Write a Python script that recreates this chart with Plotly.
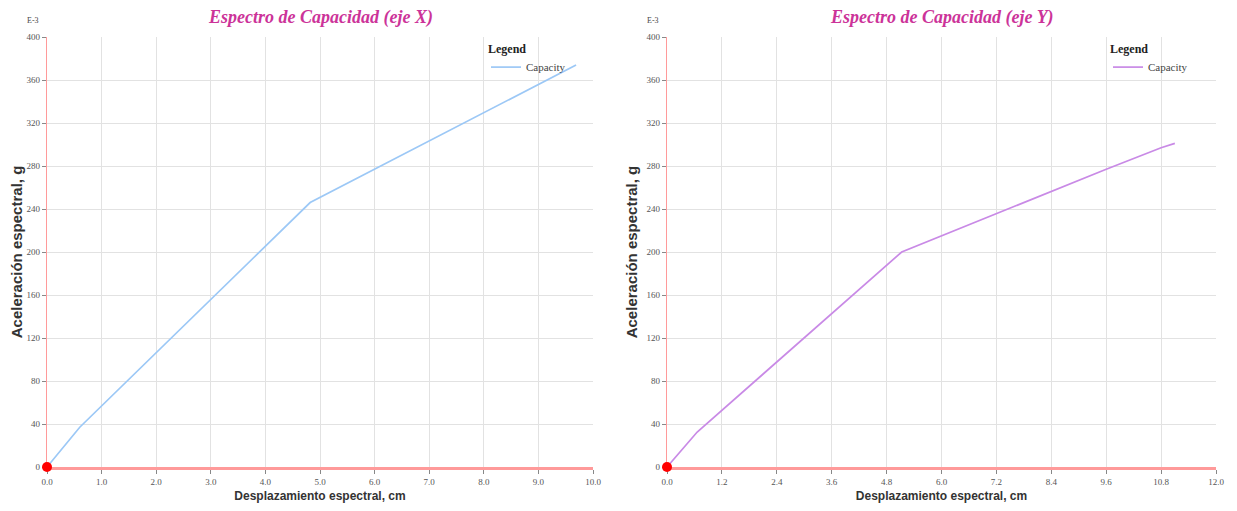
import plotly.graph_objects as go
from plotly.subplots import make_subplots

# ---- data ----
x_disp_X = [0.0, 0.6, 4.82, 9.69]
y_acc_X = [0, 37, 246, 374]

x_disp_Y = [0.0, 0.66, 5.13, 6.0, 7.2, 8.4, 9.6, 10.8, 11.1]
y_acc_Y = [0, 32.5, 200, 215, 236, 256, 277, 297, 301]

titles = ["Espectro de Capacidad (eje X)", "Espectro de Capacidad (eje Y)"]
series_name = "Capacity"
x_title = "Desplazamiento espectral, cm"
y_title = "Aceleración espectral, g"
unit_label = "E-3"

x_ranges = [[0, 10], [0, 12]]
x_dticks = [1.0, 1.2]
y_range = [0, 400]
y_dtick = 40

colors = ["#9cc8f6", "#c98ae6"]

# page has an 8px body margin; figure placed at (8, 8)
OFF = 8
W, H = 1237 - 2 * OFF, 511 - 2 * OFF
ml = 47 - OFF
mt = 37 - OFF
mr = (OFF + W) - 1216
mb = (OFF + H) - 467
pw = W - ml - mr
ph = H - mt - mb
d1 = [0, (593 - 47) / pw]
d2 = [(667 - 47) / pw, 1]

fig = make_subplots(rows=1, cols=2)

serif = "Liberation Serif"
sans = "Liberation Sans"

for i, (xs, ys) in enumerate([(x_disp_X, y_acc_X), (x_disp_Y, y_acc_Y)]):
    fig.add_trace(go.Scatter(
        x=xs, y=ys, mode="lines", name=series_name,
        line=dict(color=colors[i], width=1.7),
        legend="legend" if i == 0 else "legend2",
    ), row=1, col=i + 1)
    fig.add_trace(go.Scatter(
        x=xs[:1], y=ys[:1], mode="markers", showlegend=False,
        marker=dict(color="#ff0000", size=10), cliponaxis=False,
        hoverinfo="skip",
    ), row=1, col=i + 1)

axis_common = dict(
    showgrid=True, gridcolor="#e2e2e2", gridwidth=1,
    ticks="outside", ticklen=4, tickcolor="#888",
    tickfont=dict(family=serif, size=9, color="#555"),
    showline=True, linecolor="#ff9a9a", mirror=False,
    zeroline=False, layer="below traces", automargin=False,
)

for i in range(2):
    xa = "xaxis" if i == 0 else "xaxis2"
    ya = "yaxis" if i == 0 else "yaxis2"
    fig.update_layout(**{
        xa: dict(axis_common, domain=d1 if i == 0 else d2,
                 range=x_ranges[i], dtick=x_dticks[i], tick0=0,
                 tickformat=".1f", linewidth=2.5,
                 title=dict(text="<b>" + x_title + "</b>", standoff=17,
                            font=dict(family=sans, size=12, color="#333"))),
        ya: dict(axis_common, range=y_range, dtick=y_dtick, tick0=0,
                 linewidth=1.2,
                 title=dict(text="<b>" + y_title + "</b>", standoff=5,
                            font=dict(family=sans, size=15, color="#333"))),
    })

annotations = []
centers = [(d1[0] + d1[1]) / 2, (d2[0] + d2[1]) / 2]
for i in range(2):
    annotations.append(dict(
        text="<b><i>" + titles[i] + "</i></b>", x=centers[i],
        y=1 + (mt - (18 - OFF)) / ph, yanchor="middle", xanchor="center",
        xref="paper", yref="paper", showarrow=False,
        font=dict(family=serif, size=18, color="#cc3399")))
    annotations.append(dict(
        text=unit_label, x=(d1[0] if i == 0 else d2[0]), xshift=-14, y=1,
        yshift=17, xref="paper", yref="paper", showarrow=False,
        xanchor="center", yanchor="middle",
        font=dict(family=serif, size=8, color="#444")))

leg_common = dict(
    bgcolor="rgba(0,0,0,0)", borderwidth=0,
    font=dict(family=serif, size=11, color="#444"),
    title=dict(text="<b>Legend</b>", font=dict(family=serif, size=12, color="#222")),
    yanchor="top", xanchor="left", y=1.0, tracegroupgap=0,
)

fig.update_layout(
    width=W, height=H,
    margin=dict(l=ml, r=mr, t=mt, b=mb),
    paper_bgcolor="white", plot_bgcolor="white",
    annotations=annotations,
    legend=dict(leg_common, x=(486 - 47) / pw),
    legend2=dict(leg_common, x=(1108 - 47) / pw),
    showlegend=True,
)

fig.write_html("out.html")
